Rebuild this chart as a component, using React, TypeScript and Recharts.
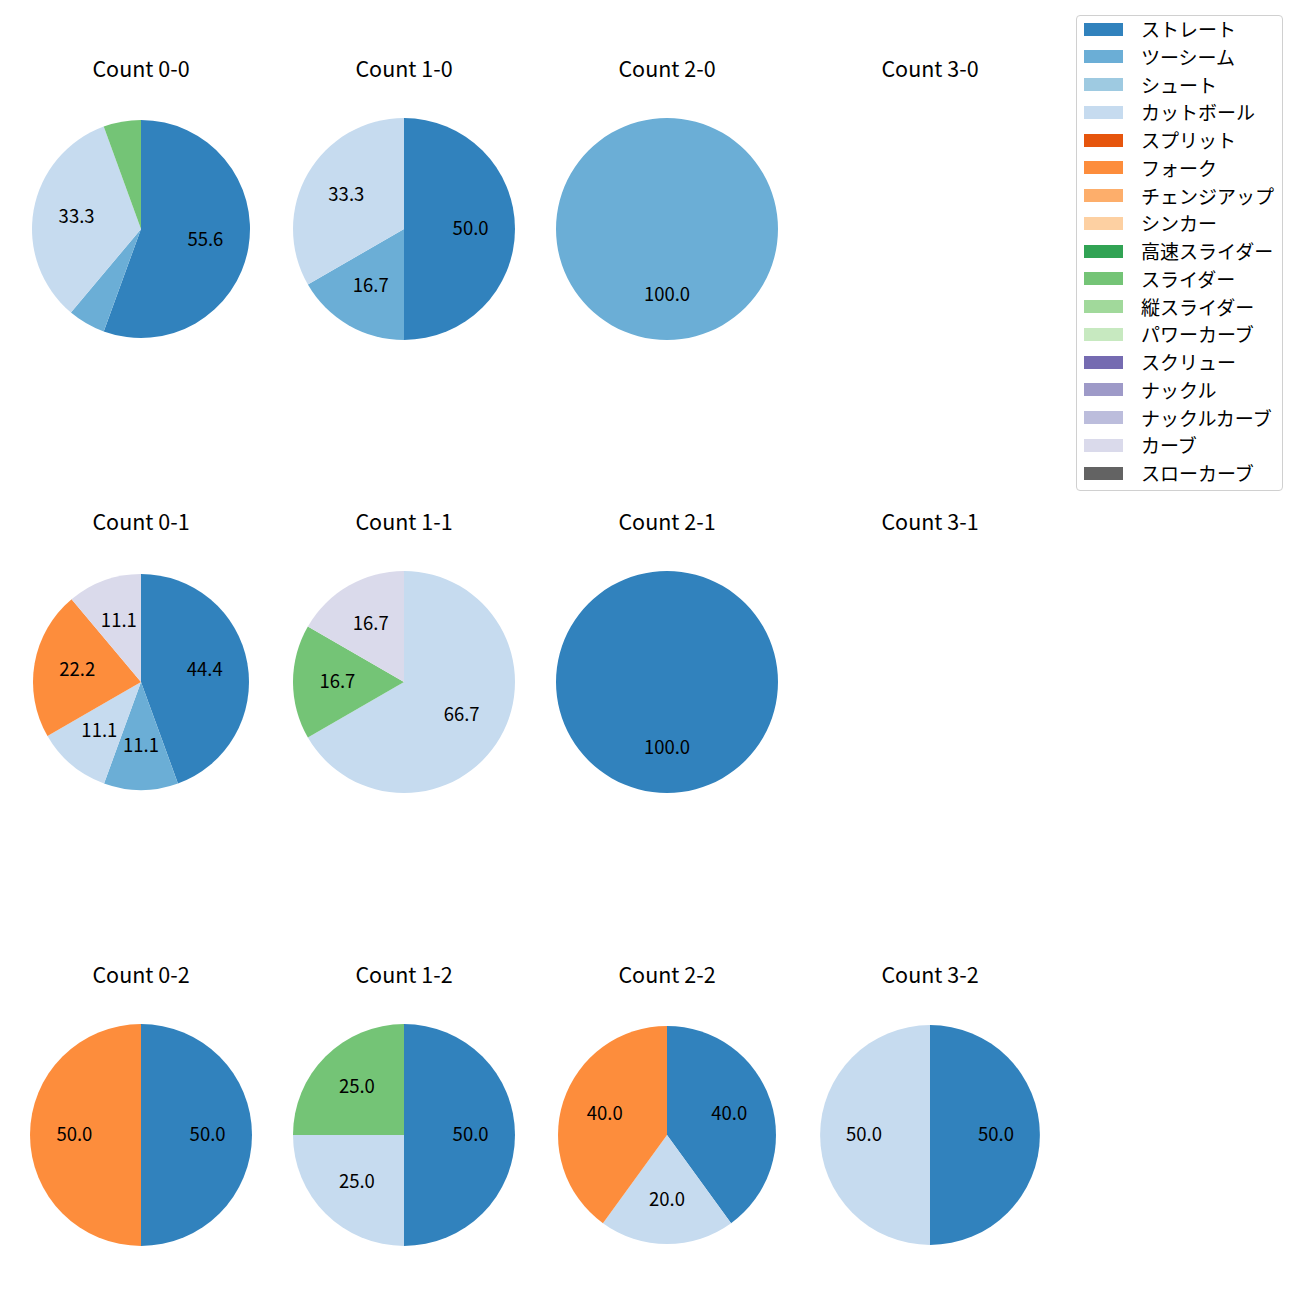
import React from "react";
import { PieChart, Pie, Cell } from "recharts";

const pitchNames = [
  "ストレート", "ツーシーム", "シュート", "カットボール", "スプリット", "フォーク",
  "チェンジアップ", "シンカー", "高速スライダー", "スライダー", "縦スライダー",
  "パワーカーブ", "スクリュー", "ナックル", "ナックルカーブ", "カーブ", "スローカーブ",
];
const pitchColors = [
  "#3182bd", "#6baed6", "#9ecae1", "#c6dbef", "#e6550d", "#fd8d3c",
  "#fdae6b", "#fdd0a2", "#31a354", "#74c476", "#a1d99b",
  "#c7e9c0", "#756bb1", "#9e9ac8", "#bcbddc", "#dadaeb", "#636363",
];

const countTitles = [
  "Count 0-0", "Count 1-0", "Count 2-0", "Count 3-0",
  "Count 0-1", "Count 1-1", "Count 2-1", "Count 3-1",
  "Count 0-2", "Count 1-2", "Count 2-2", "Count 3-2",
];

// pitch counts per count situation, in pitchNames order
const counts00 = [10, 1, 0, 6, 0, 0, 0, 0, 0, 1, 0, 0, 0, 0, 0, 0, 0];
const counts10 = [3, 1, 0, 2, 0, 0, 0, 0, 0, 0, 0, 0, 0, 0, 0, 0, 0];
const counts20 = [0, 1, 0, 0, 0, 0, 0, 0, 0, 0, 0, 0, 0, 0, 0, 0, 0];
const counts30 = [0, 0, 0, 0, 0, 0, 0, 0, 0, 0, 0, 0, 0, 0, 0, 0, 0];
const counts01 = [4, 1, 0, 1, 0, 2, 0, 0, 0, 0, 0, 0, 0, 0, 0, 1, 0];
const counts11 = [0, 0, 0, 4, 0, 0, 0, 0, 0, 1, 0, 0, 0, 0, 0, 1, 0];
const counts21 = [1, 0, 0, 0, 0, 0, 0, 0, 0, 0, 0, 0, 0, 0, 0, 0, 0];
const counts31 = [0, 0, 0, 0, 0, 0, 0, 0, 0, 0, 0, 0, 0, 0, 0, 0, 0];
const counts02 = [1, 0, 0, 0, 0, 1, 0, 0, 0, 0, 0, 0, 0, 0, 0, 0, 0];
const counts12 = [2, 0, 0, 1, 0, 0, 0, 0, 0, 1, 0, 0, 0, 0, 0, 0, 0];
const counts22 = [2, 0, 0, 1, 0, 2, 0, 0, 0, 0, 0, 0, 0, 0, 0, 0, 0];
const counts32 = [1, 0, 0, 1, 0, 0, 0, 0, 0, 0, 0, 0, 0, 0, 0, 0, 0];

const allCounts = [
  counts00, counts10, counts20, counts30,
  counts01, counts11, counts21, counts31,
  counts02, counts12, counts22, counts32,
];

// layout
const colX = [141, 404, 667, 930];
const rowY = [229, 682, 1135];
const radii = [109, 111, 111, 111, 108, 111, 111, 111, 111, 111, 109, 110];
const titleOffset = 160;

const FONT = "'Noto Sans CJK JP', 'Noto Sans', sans-serif";
const RAD = Math.PI / 180;

const renderLabel = (props: any) => {
  const { cx, cy, midAngle, outerRadius, percent } = props;
  if (percent < 0.1) return null;
  const r = outerRadius * 0.6;
  const x = cx + r * Math.cos(-midAngle * RAD);
  const y = cy + r * Math.sin(-midAngle * RAD) - 2.5;
  return (
    <text
      x={x}
      y={y}
      textAnchor="middle"
      dominantBaseline="central"
      fill="#000"
      fontSize={18.5}
      fontFamily={FONT}
    >
      {(percent * 100).toFixed(1)}
    </text>
  );
};

export default function App() {
  return (
    <div
      style={{
        position: "absolute",
        left: 0,
        top: 0,
        width: 1300,
        height: 1300,
        background: "#fff",
        fontFamily: FONT,
      }}
    >
      <div style={{ position: "absolute", left: 0, top: 0 }}>
        <PieChart width={1300} height={1300} margin={{ top: 0, right: 0, bottom: 0, left: 0 }}>
          {allCounts.map((arr, i) => {
            const data = arr
              .map((v, k) => ({ name: pitchNames[k], value: v, color: pitchColors[k] }))
              .filter((d) => d.value > 0);
            if (data.length === 0) return null;
            const cx = colX[i % 4];
            const cy = rowY[Math.floor(i / 4)];
            return (
              <Pie
                key={i}
                data={data}
                dataKey="value"
                nameKey="name"
                cx={cx}
                cy={cy}
                outerRadius={radii[i]}
                startAngle={90}
                endAngle={-270}
                stroke="none"
                labelLine={false}
                label={renderLabel}
                isAnimationActive={false}
              >
                {data.map((d, k) => (
                  <Cell key={k} fill={d.color} />
                ))}
              </Pie>
            );
          })}
        </PieChart>
      </div>
      {countTitles.map((t, i) => (
        <div
          key={t}
          style={{
            position: "absolute",
            left: colX[i % 4] - 100,
            width: 200,
            top: rowY[Math.floor(i / 4)] - titleOffset - 16,
            height: 30,
            lineHeight: "30px",
            textAlign: "center",
            fontSize: 21.5,
            color: "#000",
          }}
        >
          {t}
        </div>
      ))}
      <div
        style={{
          position: "absolute",
          left: 1076,
          top: 15,
          width: 205,
          height: 474,
          border: "1px solid #d0d0d0",
          borderRadius: 4,
          boxSizing: "content-box",
        }}
      >
        {pitchNames.map((n, k) => (
          <div
            key={n}
            style={{
              position: "absolute",
              left: 0,
              top: 13 + k * 27.75 - 14,
              height: 28,
              width: 205,
            }}
          >
            <div
              style={{
                position: "absolute",
                left: 7,
                top: 7.5,
                width: 39,
                height: 13,
                background: pitchColors[k],
              }}
            />
            <div
              style={{
                position: "absolute",
                left: 64,
                top: 0,
                fontSize: 19,
                whiteSpace: "nowrap",
                color: "#000",
                lineHeight: "28px",
              }}
            >
              {n}
            </div>
          </div>
        ))}
      </div>
    </div>
  );
}
